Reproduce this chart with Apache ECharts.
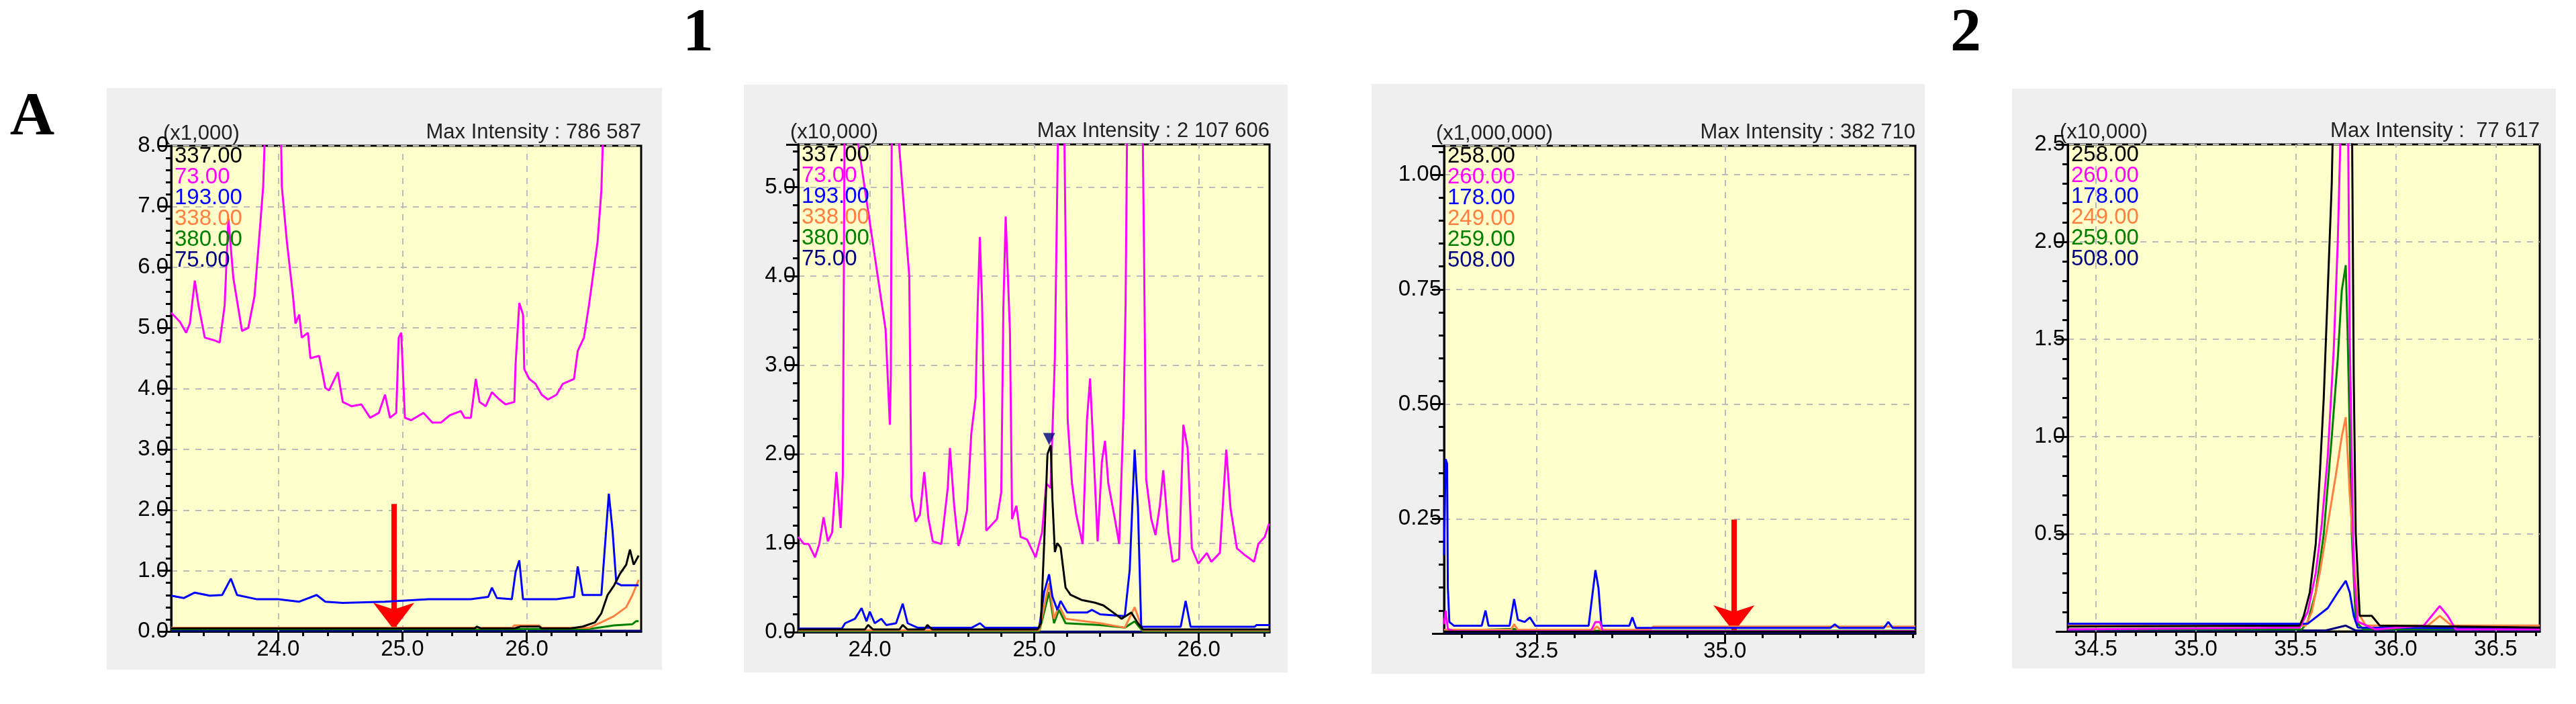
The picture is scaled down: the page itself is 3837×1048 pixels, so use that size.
<!DOCTYPE html>
<html>
<head>
<meta charset="utf-8">
<script src="https://cdn.jsdelivr.net/npm/echarts@6/dist/echarts.min.js"></script>
<style>
  html, body { margin: 0; padding: 0; background: #fff; }
  #chart { width: 3837px; height: 1048px; }
</style>
</head>
<body>
<div id="chart"></div>
<script>
// ---- colours per legend row (same order in every panel) ----
const ionColors = ['#000000', '#ff00ff', '#0000ff', '#ff8040', '#008000', '#000080'];

// ---- panel A (x1,000) ----
const A_ions = ['337.00', '73.00', '193.00', '338.00', '380.00', '75.00'];
const A_73 = [[23.14,5.25],[23.21,5.1],[23.26,4.92],[23.29,5.07],[23.33,5.78],[23.36,5.37],[23.41,4.84],[23.48,4.8],[23.53,4.76],
  [23.57,5.37],[23.6,6.8],[23.64,5.82],[23.71,4.95],[23.76,5.0],[23.81,5.52],[23.84,6.28],[23.88,7.33],[23.9,8.6],[24.02,8.6],
  [24.03,7.33],[24.07,6.43],[24.12,5.52],[24.14,5.07],[24.17,5.22],[24.19,4.84],[24.24,4.92],[24.26,4.5],[24.33,4.54],[24.38,4.01],
  [24.41,3.97],[24.48,4.27],[24.52,3.78],[24.59,3.71],[24.67,3.74],[24.74,3.52],[24.81,3.6],[24.86,3.9],[24.9,3.52],[24.95,3.6],
  [24.97,4.84],[24.99,4.92],[25.02,3.52],[25.07,3.48],[25.17,3.6],[25.24,3.44],[25.31,3.44],[25.38,3.56],[25.47,3.63],[25.5,3.52],
  [25.55,3.52],[25.59,4.16],[25.62,3.78],[25.67,3.71],[25.72,3.94],[25.78,3.82],[25.83,3.74],[25.9,3.78],[25.91,4.4],[25.94,5.41],
  [25.97,5.22],[25.98,4.32],[26.02,4.16],[26.07,4.08],[26.12,3.9],[26.17,3.82],[26.24,3.9],[26.29,4.08],[26.38,4.16],[26.41,4.62],
  [26.46,4.84],[26.5,5.37],[26.53,5.82],[26.57,6.43],[26.6,7.26],[26.62,8.6],[26.92,9.5]];
const A_193 = [[23.14,0.59],[23.24,0.55],[23.33,0.64],[23.45,0.59],[23.55,0.6],[23.62,0.87],[23.67,0.6],[23.83,0.53],[24.0,0.53],
  [24.17,0.49],[24.31,0.6],[24.38,0.49],[24.52,0.47],[24.86,0.49],[25.21,0.53],[25.55,0.53],[25.69,0.57],[25.72,0.72],[25.76,0.55],
  [25.88,0.53],[25.91,0.98],[25.94,1.17],[25.97,0.53],[26.24,0.53],[26.38,0.57],[26.41,1.07],[26.45,0.6],[26.6,0.6],[26.66,2.27],
  [26.69,1.66],[26.72,0.8],[26.76,0.76],[26.9,0.76]];
const A_337 = [[23.14,0.05],[25.58,0.05],[25.6,0.08],[25.63,0.05],[25.9,0.05],[25.95,0.08],[26.1,0.08],[26.12,0.05],[26.35,0.05],
  [26.45,0.08],[26.55,0.15],[26.6,0.3],[26.65,0.6],[26.7,0.75],[26.75,0.95],[26.8,1.1],[26.83,1.35],[26.86,1.1],[26.9,1.25]];
const A_338 = [[23.14,0.06],[25.88,0.06],[25.9,0.1],[26.1,0.1],[26.12,0.06],[26.5,0.06],[26.6,0.15],[26.7,0.25],[26.8,0.4],[26.85,0.6],[26.9,0.85]];
const A_380 = [[23.14,0.04],[26.5,0.04],[26.6,0.07],[26.7,0.1],[26.85,0.12],[26.88,0.17],[26.9,0.17]];
const A_75 = [[23.14,0.01],[26.92,0.01]];

// ---- panel 1 (x10,000) ----
const P1_ions = ['337.00', '73.00', '193.00', '338.00', '380.00', '75.00'];
const P1_73 = [[23.565,1.07],[23.6,0.99],[23.628,0.99],[23.667,0.84],[23.693,0.99],[23.719,1.29],[23.745,1.02],[23.771,1.12],
  [23.797,1.8],[23.823,1.17],[23.836,1.77],[23.849,6.5],[24.096,3.4],[24.122,2.33],[24.128,2.88],[24.135,6.5],[24.24,4.0],
  [24.253,1.52],[24.279,1.24],[24.305,1.32],[24.331,1.8],[24.357,1.27],[24.383,1.02],[24.435,0.99],[24.474,1.62],[24.487,2.07],
  [24.513,1.42],[24.539,0.97],[24.565,1.14],[24.591,1.37],[24.617,2.23],[24.643,2.63],[24.656,3.68],[24.669,4.44],[24.682,3.74],
  [24.708,1.14],[24.773,1.27],[24.799,1.57],[24.812,3.64],[24.826,4.67],[24.852,3.38],[24.865,1.27],[24.891,1.42],[24.917,1.07],
  [24.956,1.04],[25.008,0.84],[25.047,1.12],[25.073,1.67],[25.099,1.62],[25.125,3.08],[25.151,6.5],[25.177,6.5],[25.203,2.38],
  [25.229,1.67],[25.255,1.32],[25.294,0.99],[25.32,2.38],[25.339,2.85],[25.359,2.07],[25.385,1.02],[25.411,1.92],[25.43,2.15],
  [25.45,1.67],[25.49,1.27],[25.516,0.99],[25.542,2.43],[25.555,3.68],[25.568,6.5],[25.654,6.5],[25.667,4.29],[25.68,1.72],
  [25.711,1.27],[25.737,1.09],[25.763,1.42],[25.784,1.82],[25.815,1.12],[25.841,0.79],[25.88,0.82],[25.906,2.33],[25.932,2.07],
  [25.958,0.94],[25.997,0.77],[26.049,0.89],[26.076,0.79],[26.128,0.89],[26.167,2.05],[26.193,1.39],[26.232,0.94],[26.284,0.86],
  [26.336,0.79],[26.362,0.99],[26.401,1.07],[26.427,1.22]];
const P1_337 = [[23.565,0.03],[23.97,0.03],[23.99,0.08],[24.02,0.03],[24.18,0.03],[24.2,0.08],[24.23,0.03],[24.33,0.03],[24.35,0.08],
  [24.38,0.03],[25.02,0.03],[25.04,0.1],[25.06,1.0],[25.08,2.0],[25.1,2.1],[25.11,1.5],[25.125,0.9],[25.14,1.0],[25.16,0.95],
  [25.19,0.5],[25.22,0.42],[25.29,0.36],[25.37,0.33],[25.42,0.3],[25.48,0.22],[25.53,0.15],[25.59,0.22],[25.63,0.1],[25.66,0.03],[26.43,0.03]];
const P1_193 = [[23.565,0.04],[23.83,0.04],[23.85,0.1],[23.91,0.15],[23.95,0.27],[23.98,0.12],[24.0,0.23],[24.03,0.1],[24.07,0.15],
  [24.1,0.08],[24.16,0.1],[24.2,0.32],[24.23,0.1],[24.29,0.05],[24.62,0.05],[24.67,0.1],[24.7,0.05],[25.03,0.05],[25.06,0.45],
  [25.09,0.65],[25.11,0.4],[25.14,0.25],[25.16,0.35],[25.2,0.22],[25.32,0.22],[25.35,0.25],[25.4,0.2],[25.55,0.18],[25.58,0.7],
  [25.61,2.05],[25.63,1.4],[25.65,0.06],[25.89,0.06],[25.92,0.35],[25.95,0.06],[26.34,0.06],[26.35,0.08],[26.43,0.08]];
const P1_338 = [[23.565,0.02],[25.03,0.02],[25.05,0.2],[25.09,0.55],[25.12,0.15],[25.15,0.3],[25.19,0.15],[25.4,0.1],[25.55,0.05],
  [25.61,0.28],[25.66,0.02],[26.43,0.02]];
const P1_380 = [[23.565,0.01],[25.03,0.01],[25.05,0.15],[25.09,0.45],[25.12,0.1],[25.15,0.25],[25.19,0.1],[25.4,0.08],[25.55,0.05],
  [25.61,0.12],[25.66,0.01],[26.43,0.01]];
const P1_75 = [[23.565,0.005],[26.43,0.005]];

// ---- panel 2, left (x1,000,000) ----
const B_ions = ['258.00', '260.00', '178.00', '249.00', '259.00', '508.00'];
const B_178 = [[31.27,0.17],[31.29,0.38],[31.31,0.37],[31.32,0.1],[31.34,0.025],[31.4,0.017],[31.77,0.017],[31.82,0.05],[31.86,0.017],
  [32.14,0.017],[32.2,0.075],[32.25,0.03],[32.34,0.025],[32.41,0.035],[32.48,0.017],[33.19,0.017],[33.28,0.138],[33.32,0.1],
  [33.36,0.017],[33.73,0.017],[33.77,0.035],[33.82,0.012],[36.4,0.012],[36.46,0.02],[36.52,0.012],[37.11,0.012],[37.17,0.025],
  [37.23,0.012],[37.53,0.012]];
const B_260 = [[31.27,0.02],[31.29,0.05],[31.32,0.01],[31.4,0.005],[33.22,0.005],[33.28,0.025],[33.34,0.025],[33.38,0.005],[37.53,0.005]];
const B_249 = [[31.27,0.008],[32.16,0.008],[32.2,0.02],[32.25,0.008],[33.25,0.008],[33.3,0.015],[33.35,0.008],[34.0,0.008],[34.05,0.015],[37.53,0.015]];
const B_258 = [[31.27,0.004],[37.53,0.004]];
const B_259 = [[31.27,0.006],[32.2,0.01],[32.3,0.006],[37.53,0.006]];
const B_508 = [[31.27,0.002],[37.53,0.002]];

// ---- panel 2, right (x10,000) ----
const C_ions = ['258.00', '260.00', '178.00', '249.00', '259.00', '508.00'];
const C_258 = [[34.36,0.025],[35.52,0.03],[35.54,0.08],[35.57,0.2],[35.6,0.45],[35.62,0.8],[35.64,1.2],[35.66,1.75],[35.68,2.3],
  [35.69,2.8],[35.78,2.8],[35.79,1.3],[35.8,0.5],[35.82,0.08],[35.88,0.08],[35.92,0.03],[36.72,0.02]];
const C_260 = [[34.36,0.01],[35.52,0.02],[35.56,0.1],[35.6,0.3],[35.63,0.55],[35.66,0.9],[35.69,1.45],[35.71,2.0],[35.73,2.8],
  [35.76,2.8],[35.77,1.5],[35.79,0.3],[35.81,0.05],[35.9,0.01],[36.14,0.03],[36.18,0.08],[36.22,0.13],[36.26,0.08],[36.3,0.01],[36.72,0.01]];
const C_178 = [[34.36,0.04],[35.56,0.04],[35.66,0.12],[35.71,0.2],[35.75,0.26],[35.77,0.2],[35.79,0.08],[35.81,0.02],[36.72,0.015]];
const C_249 = [[34.36,0.03],[35.55,0.03],[35.58,0.1],[35.62,0.3],[35.66,0.55],[35.7,0.8],[35.73,1.0],[35.75,1.1],[35.77,0.7],
  [35.79,0.4],[35.81,0.1],[35.85,0.03],[36.16,0.03],[36.22,0.08],[36.28,0.03],[36.72,0.03]];
const C_259 = [[34.36,0.01],[35.53,0.01],[35.56,0.05],[35.6,0.2],[35.64,0.5],[35.68,1.0],[35.71,1.4],[35.73,1.75],[35.75,1.88],
  [35.76,1.5],[35.78,0.5],[35.8,0.05],[35.84,0.01],[36.72,0.01]];
const C_508 = [[34.36,0.005],[35.65,0.005],[35.75,0.03],[35.8,0.005],[36.72,0.005]];

// ---- panel settings: ranges, ticks and header text ----
const panels = [
  { box: [159, 131, 827, 866], grid: [255, 217, 700, 723], scale: '(x1,000)', maxInt: 'Max Intensity : 786 587',
    ions: A_ions, data: [A_337, A_73, A_193, A_338, A_380, A_75],
    x: [23.14, 26.92], xMajor: [24, 25, 26], xMinorStep: 0.2, xDec: 1,
    y: [0, 8], yInt: 1, yDec: 1, showMin: true },
  { box: [1108, 126, 810, 875], grid: [1189, 215, 702, 726], scale: '(x10,000)', maxInt: 'Max Intensity : 2 107 606',
    ions: P1_ions, data: [P1_337, P1_73, P1_193, P1_338, P1_380, P1_75],
    x: [23.565, 26.43], xMajor: [24, 25, 26], xMinorStep: 0.2, xDec: 1,
    y: [0, 5.48], yInt: 1, yDec: 1, showMin: true },
  { box: [2043, 125, 824, 878], grid: [2151, 217, 702, 726], scale: '(x1,000,000)', maxInt: 'Max Intensity : 382 710',
    ions: B_ions, data: [B_258, B_260, B_178, B_249, B_259, B_508],
    x: [31.27, 37.53], xMajor: [32.5, 35.0], xMinorStep: 0.5, xDec: 1,
    y: [0, 1.063], yInt: 0.25, yDec: 2, showMin: false },
  { box: [2997, 132, 810, 863], grid: [3080, 215, 703, 725], scale: '(x10,000)', maxInt: 'Max Intensity :  77 617',
    ions: C_ions, data: [C_258, C_260, C_178, C_249, C_259, C_508],
    x: [34.36, 36.72], xMajor: [34.5, 35.0, 35.5, 36.0, 36.5], xMinorStep: 0.1, xDec: 1,
    y: [0, 2.5], yInt: 0.5, yDec: 1, showMin: false }
];

const FONT = 'Liberation Sans';
const grids = [], xAxes = [], yAxes = [], series = [], graphics = [];

panels.forEach((p, i) => {
  const [gl, gt, gw, gh] = p.grid;
  graphics.push({ type: 'rect', z: -10, shape: { x: p.box[0], y: p.box[1], width: p.box[2], height: p.box[3] },
    style: { fill: '#efefef' } });
  grids.push({ left: gl, top: gt, width: gw, height: gh, show: true, backgroundColor: '#ffffcc',
    borderColor: '#000', borderWidth: 3 });

  const minor = [];
  for (let v = Math.ceil(p.x[0] / p.xMinorStep) * p.xMinorStep; v <= p.x[1] + 1e-9; v += p.xMinorStep) {
    minor.push(+v.toFixed(3));
  }
  // major ticks + labels
  xAxes.push({ type: 'value', gridIndex: i, min: p.x[0], max: p.x[1], position: 'bottom',
    axisLine: { show: true, lineStyle: { color: '#000', width: 3 } },
    axisTick: { show: true, customValues: p.xMajor, length: 14, lineStyle: { color: '#000', width: 3 } },
    axisLabel: { customValues: p.xMajor, formatter: v => v.toFixed(p.xDec), color: '#000', fontSize: 33,
      fontFamily: FONT, margin: 10 },
    splitLine: { show: false } });
  // minor ticks
  xAxes.push({ type: 'value', gridIndex: i, min: p.x[0], max: p.x[1], position: 'bottom',
    axisLine: { show: false },
    axisTick: { show: true, customValues: minor, length: 7, lineStyle: { color: '#000', width: 3 } },
    axisLabel: { show: false }, splitLine: { show: false } });
  yAxes.push({ type: 'value', gridIndex: i, min: p.y[0], max: p.y[1], interval: p.yInt,
    axisLine: { show: true, lineStyle: { color: '#000', width: 3 } },
    axisTick: { show: true, length: 18, lineStyle: { color: '#000', width: 3 } },
    minorTick: { show: true, splitNumber: 5, length: 8, lineStyle: { color: '#000', width: 3 } },
    axisLabel: { formatter: v => v.toFixed(p.yDec), color: '#000', fontSize: 33, fontFamily: FONT, margin: 4,
      showMinLabel: p.showMin, showMaxLabel: p.y[1] % p.yInt === 0 },
    splitLine: { show: true, lineStyle: { color: '#bbbbbb', width: 2, type: [9, 9] } } });

  // vertical dashed grid lines at the major x values
  series.push({ type: 'line', xAxisIndex: 2 * i, yAxisIndex: i, data: [], silent: true,
    markLine: { silent: true, symbol: 'none', label: { show: false },
      lineStyle: { color: '#bbbbbb', width: 2, type: [9, 9] },
      data: p.xMajor.map(v => ({ xAxis: v })) } });

  // chromatogram traces, drawn last-legend-row first so black ends up on top
  for (let k = p.data.length - 1; k >= 0; k--) {
    series.push({ type: 'line', name: p.ions[k], xAxisIndex: 2 * i, yAxisIndex: i, data: p.data[k],
      showSymbol: false, clip: true, z: 3 + (6 - k),
      lineStyle: { color: ionColors[k], width: 3 }, itemStyle: { color: ionColors[k] } });
  }

  // header texts + colored ion list
  graphics.push({ type: 'text', x: gl - 12, y: gt - 2, style: { text: p.scale, font: `31px "${FONT}"`,
    fill: '#222', textAlign: 'left', textVerticalAlign: 'bottom' } });
  graphics.push({ type: 'text', x: gl + gw, y: gt - 4, style: { text: p.maxInt, font: `31px "${FONT}"`,
    fill: '#222', textAlign: 'right', textVerticalAlign: 'bottom' } });
  p.ions.forEach((name, k) => {
    graphics.push({ type: 'text', x: gl + 5, y: gt + 16 + 31 * k, z: 50, style: { text: name,
      font: `33px "${FONT}"`, fill: ionColors[k], textAlign: 'left', textVerticalAlign: 'middle' } });
  });
});

// red arrows (panel A and panel 2 left), blue peak marker in panel 1
const arrowA = [24.93, 2.1, 0.03];
const arrowB = [35.12, 0.248, 0.003];
const peak1 = [25.09, 2.17];
function arrowSeries(gi, a) {
  return { type: 'line', xAxisIndex: 2 * gi, yAxisIndex: gi, data: [], z: 20,
    markLine: { silent: true, symbol: ['none', 'arrow'], symbolSize: [46, 40], label: { show: false },
      lineStyle: { color: '#ff0000', width: 8, type: 'solid' },
      data: [[{ coord: [a[0], a[1]] }, { coord: [a[0], a[2]] }]] } };
}
series.push(arrowSeries(0, arrowA));
series.push(arrowSeries(2, arrowB));
series.push({ type: 'scatter', xAxisIndex: 2, yAxisIndex: 1, data: [peak1], symbol: 'triangle', symbolRotate: 180,
  symbolSize: 18, z: 20, itemStyle: { color: '#000080' } });

// panel letters
[['A', 48, 222], ['1', 1040, 97], ['2', 2928, 97]].forEach(([t, x, y]) => {
  graphics.push({ type: 'text', x: x, y: y, style: { text: t, font: 'bold 92px "Liberation Serif"', fill: '#000',
    textAlign: 'center', textVerticalAlign: 'bottom' } });
});

const chart = echarts.init(document.getElementById('chart'));
chart.setOption({
  animation: false,
  backgroundColor: '#ffffff',
  grid: grids, xAxis: xAxes, yAxis: yAxes, series: series, graphic: graphics
});
</script>
</body>
</html>
